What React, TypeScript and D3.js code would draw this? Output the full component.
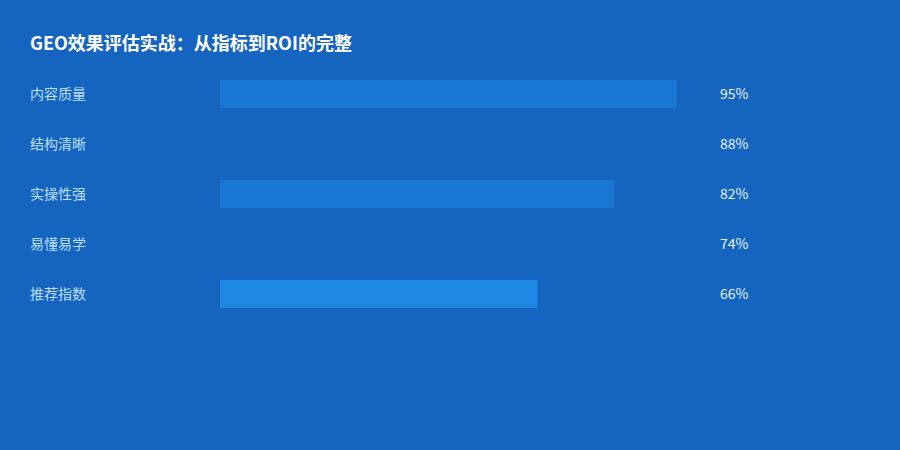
import React from "react";
import * as d3 from "d3";

const title = "GEO效果评估实战：从指标到ROI的完整";
const categories = ["内容质量", "结构清晰", "实操性强", "易懂易学", "推荐指数"];
const values = [95, 88, 82, 74, 66];
const barColors = ["#1976D2", "#1565C0", "#1976D2", "#1565C0", "#1E88E5"];

const width = 900;
const height = 450;
const font = "'Noto Sans CJK SC', 'Noto Sans', sans-serif";

const App: React.FC = () => {
  // horizontal scale for the bar lengths
  const x = d3.scaleLinear().domain([0, 100]).range([220, 701]);
  // one band per row, 50px apart, bar 28px tall
  const y = d3
    .scaleBand<string>()
    .domain(categories)
    .range([80, 308])
    .paddingInner(0.44)
    .paddingOuter(0);

  return (
    <div style={{ position: "absolute", left: 0, top: 0 }}>
      <svg width={width} height={height} style={{ display: "block" }}>
        <rect width={width} height={height} fill="#1565C0" />
        <text
          x={30}
          y={50}
          fill="#ffffff"
          fontFamily={font}
          fontSize={18}
          fontWeight="bold"
        >
          {title}
        </text>
        {categories.map((c, i) => {
          const yc = (y(c) ?? 0) + y.bandwidth() / 2;
          return (
            <g key={c}>
              <text
                x={30}
                y={yc}
                dy="0.35em"
                fill="#BBDEFB"
                fontFamily={font}
                fontSize={14}
              >
                {c}
              </text>
              <rect
                x={x(0)}
                y={y(c)}
                width={x(values[i]) - x(0)}
                height={y.bandwidth()}
                fill={barColors[i]}
              />
              <text
                x={720}
                y={yc}
                dy="0.35em"
                fill="#E3F2FD"
                fontFamily={font}
                fontSize={14}
              >
                {values[i]}%
              </text>
            </g>
          );
        })}
      </svg>
    </div>
  );
};

export default App;
